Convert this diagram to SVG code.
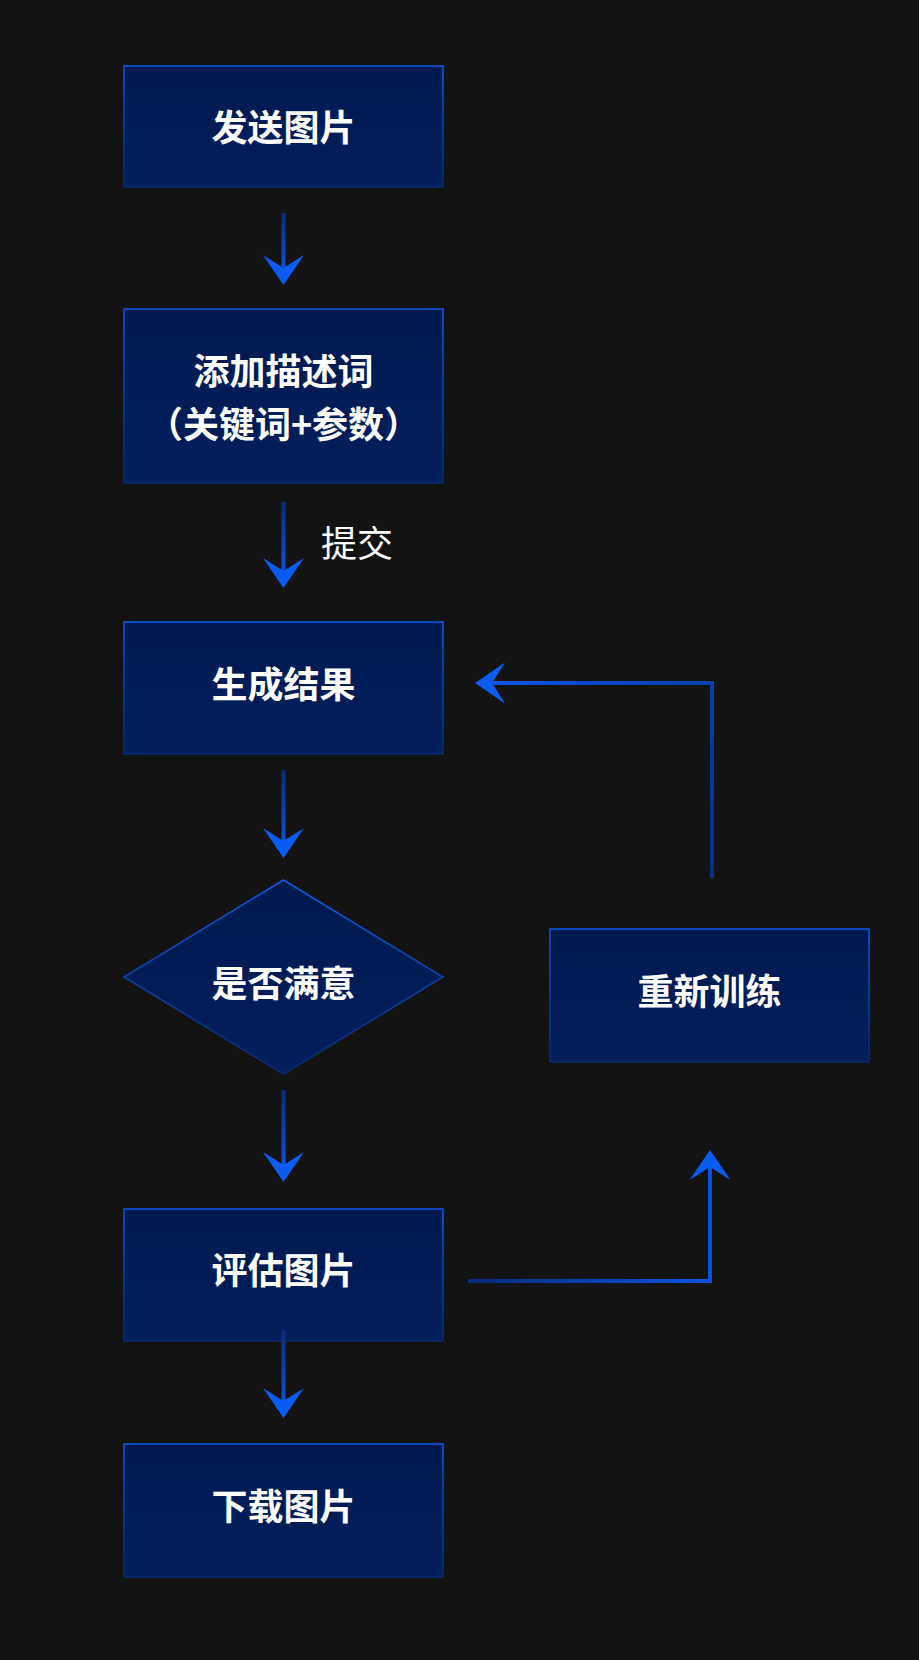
<svg xmlns="http://www.w3.org/2000/svg" width="919" height="1660" viewBox="0 0 919 1660">
<style>
.bg{fill:#131313}
.box{fill:url(#boxFill);stroke:url(#boxStroke);stroke-width:1.5}
.lbl{font-family:"Noto Sans CJK SC","Noto Sans",sans-serif;font-size:36px;font-weight:700;fill:#ffffff;text-anchor:middle}
.note{font-family:"Noto Sans CJK SC","Noto Sans",sans-serif;font-size:36px;font-weight:400;fill:#ffffff}
.ln{fill:none;stroke-width:4}
.vl{fill:url(#vgrad)}
.ah{fill:#0a5cf2}
</style>
<defs>
<linearGradient id="boxFill" x1="0" y1="0" x2="0" y2="1">
<stop offset="0" stop-color="#001a50"/>
<stop offset="1" stop-color="#021f5c"/>
</linearGradient>
<linearGradient id="boxStroke" x1="0" y1="0" x2="0" y2="1">
<stop offset="0" stop-color="#0b5ae6"/>
<stop offset="1" stop-color="#062a70"/>
</linearGradient>
<linearGradient id="vgrad" x1="0" y1="0" x2="0" y2="1">
<stop offset="0" stop-color="#0a2b78"/>
<stop offset="1" stop-color="#0a52e0"/>
</linearGradient>
<linearGradient id="hgrad" gradientUnits="userSpaceOnUse" x1="468" y1="0" x2="711" y2="0">
<stop offset="0" stop-color="#0a2b78"/>
<stop offset="1" stop-color="#0a52e0"/>
</linearGradient>
<linearGradient id="fgrad" gradientUnits="userSpaceOnUse" x1="712" y1="878" x2="480" y2="683">
<stop offset="0" stop-color="#0a2f85"/>
<stop offset="1" stop-color="#0a55e6"/>
</linearGradient>
<path id="head" d="M0,0 L-20.5,-30 L0,-17 L20.5,-30 Z"/>
</defs>
<rect class="bg" x="0" y="0" width="919" height="1660"/>

<g id="n1">
<rect class="box" x="124" y="66" width="319" height="121"/>
<text class="lbl" x="283.5" y="141">发送图片</text>
</g>
<g id="n2">
<rect class="box" x="124" y="309" width="319" height="174"/>
<text class="lbl" x="283.5" y="385">添加描述词</text>
<text class="lbl" x="283.5" y="438">（关键词+参数）</text>
</g>
<g id="n3">
<rect class="box" x="124" y="622" width="319" height="132"/>
<text class="lbl" x="283.5" y="698">生成结果</text>
</g>
<g id="n4">
<polygon class="box" points="283.5,880 443,977 283.5,1074 124,977"/>
<text class="lbl" x="283.5" y="997">是否满意</text>
</g>
<g id="n5">
<rect class="box" x="550" y="929" width="319" height="133"/>
<text class="lbl" x="709.5" y="1005">重新训练</text>
</g>
<g id="n6">
<rect class="box" x="124" y="1209" width="319" height="132"/>
<text class="lbl" x="283.5" y="1284">评估图片</text>
</g>
<g id="n7">
<rect class="box" x="124" y="1444" width="319" height="133"/>
<text class="lbl" x="283.5" y="1520">下载图片</text>
</g>

<g id="connectors">
<rect class="vl" x="281.5" y="213" width="4" height="59"/>
<use href="#head" class="ah" transform="translate(283.5,285)"/>
<rect class="vl" x="281.5" y="502" width="4" height="73"/>
<use href="#head" class="ah" transform="translate(283.5,588)"/>
<rect class="vl" x="281.5" y="770" width="4" height="75"/>
<use href="#head" class="ah" transform="translate(283.5,858)"/>
<rect class="vl" x="281.5" y="1090" width="4" height="79"/>
<use href="#head" class="ah" transform="translate(283.5,1182)"/>
<rect class="vl" x="281.5" y="1330" width="4" height="75"/>
<use href="#head" class="ah" transform="translate(283.5,1418)"/>
<polyline class="ln" points="468,1281 710,1281 710,1163" stroke="url(#hgrad)"/>
<use href="#head" class="ah" transform="translate(710,1150) rotate(180)"/>
<polyline class="ln" points="712,878 712,683 488,683" stroke="url(#fgrad)"/>
<use href="#head" class="ah" transform="translate(475,683) rotate(90)"/>
<text class="note" x="321" y="557">提交</text>
</g>
</svg>
